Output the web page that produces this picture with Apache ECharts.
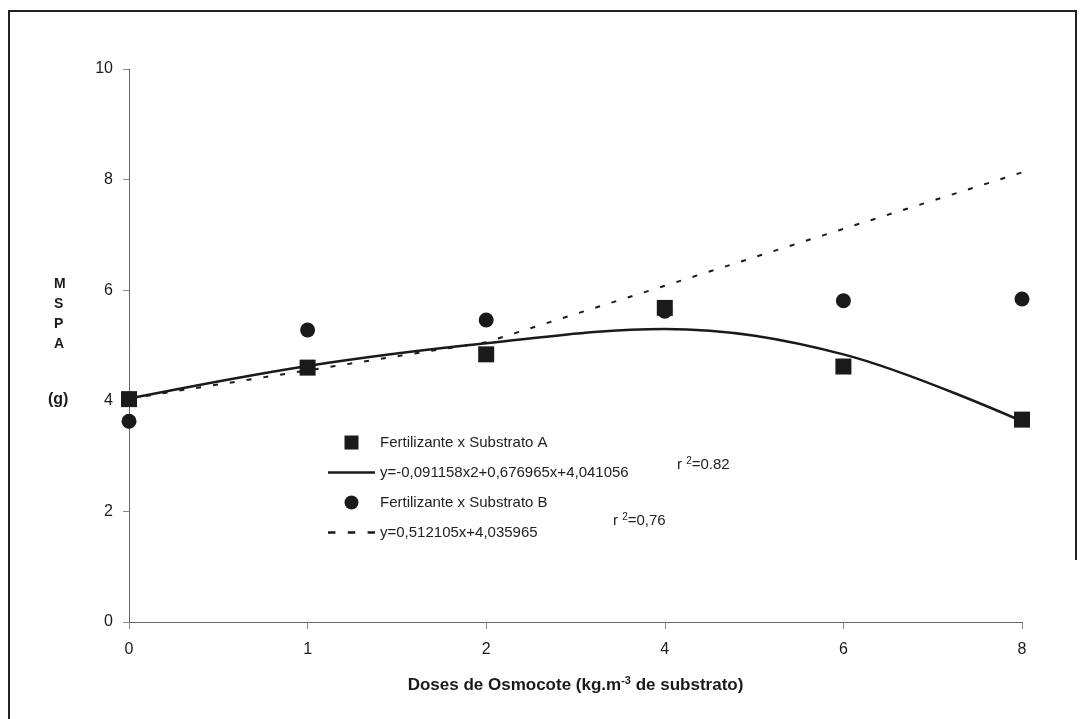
<!DOCTYPE html>
<html>
<head>
<meta charset="utf-8">
<script src="https://cdn.jsdelivr.net/npm/echarts@6/dist/echarts.min.js"></script>
<style>
  html, body { margin: 0; padding: 0; background: #fff; }
  #chart { width: 1083px; height: 719px; }
</style>
</head>
<body>
<div id="chart"></div>
<script>
const doses = ['0', '1', '2', '4', '6', '8'];
const substratoA = [4.03, 4.6, 4.84, 5.68, 4.62, 3.66];
const substratoB = [3.63, 5.28, 5.46, 5.62, 5.81, 5.84];
// trend lines
const trendA = [4.04, 4.63, 5.04, 5.3, 4.84, 3.63];
const trendB = [4.04, 4.55, 5.06, 6.08, 7.11, 8.13];
const yTicks = [0, 2, 4, 6, 8, 10];

const nameA = 'Fertilizante x Substrato A';
const nameFitA = 'y=-0,091158x2+0,676965x+4,041056';
const nameB = 'Fertilizante x Substrato B';
const nameFitB = 'y=0,512105x+4,035965';

const ink = '#1a1a1a';
const font = '"Liberation Sans", Arial, sans-serif';

const chart = echarts.init(document.getElementById('chart'));
chart.setOption({
  animation: false,
  color: [ink, ink, ink, ink],
  textStyle: { fontFamily: font },
  grid: { left: 129, right: 61, top: 69, bottom: 97 },
  xAxis: {
    type: 'category',
    data: doses,
    boundaryGap: false,
    axisLine: { lineStyle: { color: '#666', width: 1 } },
    axisTick: { alignWithLabel: true, length: 7, lineStyle: { color: '#888' } },
    axisLabel: { color: ink, fontSize: 16, margin: 20 },
    name: '{t|Doses de Osmocote (kg.m}{s|-3}{t| de substrato)}',
    nameLocation: 'middle',
    nameGap: 53,
    nameTextStyle: {
      rich: {
        t: { fontSize: 17, fontWeight: 'bold', color: ink, fontFamily: font },
        s: { fontSize: 11, fontWeight: 'bold', color: ink, fontFamily: font, verticalAlign: 'top', padding: [0, 0, 10, 0] }
      }
    }
  },
  yAxis: {
    type: 'value',
    min: yTicks[0],
    max: yTicks[yTicks.length - 1],
    interval: 2,
    splitLine: { show: false },
    axisLine: { show: true, lineStyle: { color: '#666', width: 1 } },
    axisTick: { show: true, length: 6, lineStyle: { color: '#888' } },
    axisLabel: { color: ink, fontSize: 16, margin: 16 }
  },
  legend: {
    orient: 'vertical',
    left: 323,
    top: 430,
    itemWidth: 47,
    itemHeight: 14,
    itemGap: 15,
    selectedMode: false,
    textStyle: { fontSize: 15, color: '#222', fontFamily: font },
    data: [
      { name: nameA, icon: 'path://M0,0h10v10h-10z', itemStyle: { color: ink } },
      { name: nameFitA, icon: 'path://M0,0h47v2.6h-47z', itemStyle: { color: ink } },
      { name: nameB, icon: 'circle', itemStyle: { color: ink } },
      { name: nameFitB, icon: 'path://M0,0h6v2h-6zM16,0h6v2h-6zM32,0h6v2h-6z', itemStyle: { color: ink } }
    ]
  },
  series: [
    {
      name: nameFitA,
      type: 'line',
      data: trendA,
      smooth: 0.35,
      symbol: 'none',
      lineStyle: { color: ink, width: 2.5 },
      z: 2
    },
    {
      name: nameFitB,
      type: 'line',
      data: trendB,
      symbol: 'none',
      lineStyle: { color: ink, width: 2, type: [5, 12] },
      z: 2
    },
    {
      name: nameB,
      type: 'scatter',
      data: substratoB,
      symbol: 'circle',
      symbolSize: 15,
      itemStyle: { color: ink, opacity: 1 },
      z: 3
    },
    {
      name: nameA,
      type: 'scatter',
      data: substratoA,
      symbol: 'rect',
      symbolSize: 16,
      itemStyle: { color: ink, opacity: 1 },
      z: 4
    }
  ],
  graphic: [
    {
      type: 'polyline',
      shape: { points: [[9, 719], [9, 11], [1076, 11], [1076, 560]] },
      style: { stroke: '#222', lineWidth: 2, fill: null }
    },
    {
      type: 'text', left: 54, top: 274,
      style: { text: 'M\nS\nP\nA', font: 'bold 14px ' + font, fill: ink, lineHeight: 20, textAlign: 'left' }
    },
    {
      type: 'text', left: 48, top: 392,
      style: { text: '(g)', font: 'bold 16px ' + font, fill: ink }
    },
    {
      type: 'text', left: 677, top: 456,
      style: {
        text: '{a|r }{b|2}{a|=0.82}',
        rich: {
          a: { fontSize: 15, fill: '#222', fontFamily: font },
          b: { fontSize: 10, fill: '#222', fontFamily: font, verticalAlign: 'top', padding: [0, 0, 8, 0] }
        }
      }
    },
    {
      type: 'text', left: 613, top: 512,
      style: {
        text: '{a|r }{b|2}{a|=0,76}',
        rich: {
          a: { fontSize: 15, fill: '#222', fontFamily: font },
          b: { fontSize: 10, fill: '#222', fontFamily: font, verticalAlign: 'top', padding: [0, 0, 8, 0] }
        }
      }
    }
  ]
});
</script>
</body>
</html>
